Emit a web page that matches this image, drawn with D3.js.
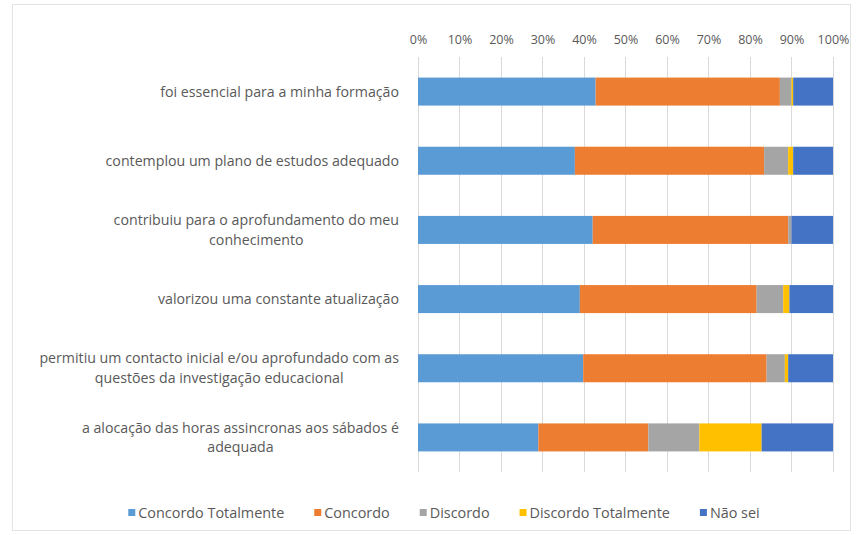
<!DOCTYPE html>
<html>
<head>
<meta charset="utf-8">
<script src="https://cdn.jsdelivr.net/npm/d3@7"></script>
<style>
  body { margin: 0; background: #fff; }
  svg text { font-family: "Open Sans", "Liberation Sans", Arial, sans-serif; fill: #595959; }
</style>
</head>
<body>
<svg id="chart" width="862" height="535"></svg>
<script>
// categories (each entry is the label's lines)
const categories = [
    ["foi essencial para a minha formação"],
    ["contemplou um plano de estudos adequado"],
    ["contribuiu para o aprofundamento do meu", "conhecimento"],
    ["valorizou uma constante atualização"],
    ["permitiu um contacto inicial e/ou aprofundado com as", "questões da investigação educacional"],
    ["a alocação das horas assincronas aos sábados é", "adequada"]
];
const seriesNames = ["Concordo Totalmente", "Concordo", "Discordo", "Discordo Totalmente", "Não sei"];
const seriesColors = ["#5B9BD5", "#ED7D31", "#A5A5A5", "#FFC000", "#4472C4"];

// values in % per series, one per category
const concordoTotalmente = [42.8, 37.8, 42.1, 39.0, 39.8, 29.0];
const concordo           = [44.4, 45.6, 47.1, 42.6, 44.2, 26.5];
const discordo           = [2.8, 5.8, 0.8, 6.4, 4.4, 12.3];
const discordoTotalmente = [0.4, 1.2, 0.0, 1.5, 0.8, 15.0];
const naoSei             = [9.6, 9.6, 10.0, 10.5, 10.8, 17.2];

const tickValues = [0, 0.1, 0.2, 0.3, 0.4, 0.5, 0.6, 0.7, 0.8, 0.9, 1];

const svg = d3.select("#chart");

// chart frame
svg.append("rect")
    .attr("x", 12.5).attr("y", 4.5)
    .attr("width", 838).attr("height", 526)
    .attr("fill", "#fff")
    .attr("stroke", "#e3e3e3");

const x = d3.scaleLinear().domain([0, 1]).range([418, 833]);
const y = d3.scaleBand()
    .domain(d3.range(categories.length))
    .range([57, 472])
    .paddingInner(0.595)
    .paddingOuter(0.2975);

// build stacked rows
const rows = categories.map((c, i) => {
    const vals = [concordoTotalmente[i], concordo[i], discordo[i], discordoTotalmente[i], naoSei[i]];
    const total = d3.sum(vals);
    const row = { index: i };
    seriesNames.forEach((s, k) => row[s] = vals[k] / total);
    return row;
});
const stacked = d3.stack().keys(seriesNames)(rows);

// gridlines
svg.append("g")
    .selectAll("line")
    .data(tickValues)
    .join("line")
    .attr("x1", d => x(d)).attr("x2", d => x(d))
    .attr("y1", 57).attr("y2", 472)
    .attr("stroke", "#d9d9d9")
    .attr("stroke-width", 1)
    .attr("shape-rendering", "crispEdges");

// top axis
const axis = svg.append("g")
    .attr("transform", "translate(0,57)")
    .call(d3.axisTop(x).tickValues(tickValues).tickFormat(d3.format(".0%")).tickSize(0).tickPadding(13));
axis.select(".domain").remove();
axis.selectAll("text")
    .style("font-size", "12.5px")
    .style("font-family", "\"Open Sans\", \"Liberation Sans\", Arial, sans-serif")
    .attr("fill", "#595959");

// bars
svg.append("g")
    .selectAll("g")
    .data(stacked)
    .join("g")
    .attr("fill", (d, i) => seriesColors[i])
    .selectAll("rect")
    .data(d => d)
    .join("rect")
    .attr("x", d => x(d[0]))
    .attr("y", d => y(d.data.index))
    .attr("width", d => x(d[1]) - x(d[0]))
    .attr("height", y.bandwidth());

// category labels (right edge at 400, lines centred within the block)
const labelG = svg.append("g");
categories.forEach((lines, i) => {
    const cy = y(i) + y.bandwidth() / 2;
    const lh = 19.5;
    const t = labelG.append("text")
        .style("font-size", "14.2px")
        .attr("fill", "#404040");
    lines.forEach((ln, j) => {
        t.append("tspan")
            .attr("y", cy + (j - (lines.length - 1) / 2) * lh)
            .attr("dy", "0.35em")
            .text(ln);
    });
    const widths = [];
    t.selectAll("tspan").each(function() { widths.push(this.getComputedTextLength()); });
    const maxW = d3.max(widths);
    t.attr("text-anchor", "middle");
    t.selectAll("tspan").attr("x", 399 - maxW / 2);
});

// legend
const legend = svg.append("g");
let lx = 0;
seriesNames.forEach((s, i) => {
    const item = legend.append("g").attr("transform", `translate(${lx},0)`);
    item.append("rect")
        .attr("x", 0).attr("y", -4)
        .attr("width", 7).attr("height", 7)
        .attr("fill", seriesColors[i]);
    const txt = item.append("text")
        .attr("x", 10).attr("y", 0)
        .attr("dy", "0.35em")
        .style("font-size", "14.4px")
        .attr("fill", "#595959")
        .text(s);
    lx += 10 + txt.node().getComputedTextLength() + 30;
});
const legendW = lx - 30;
legend.attr("transform", `translate(${444 - legendW / 2},513)`);
</script>
</body>
</html>
